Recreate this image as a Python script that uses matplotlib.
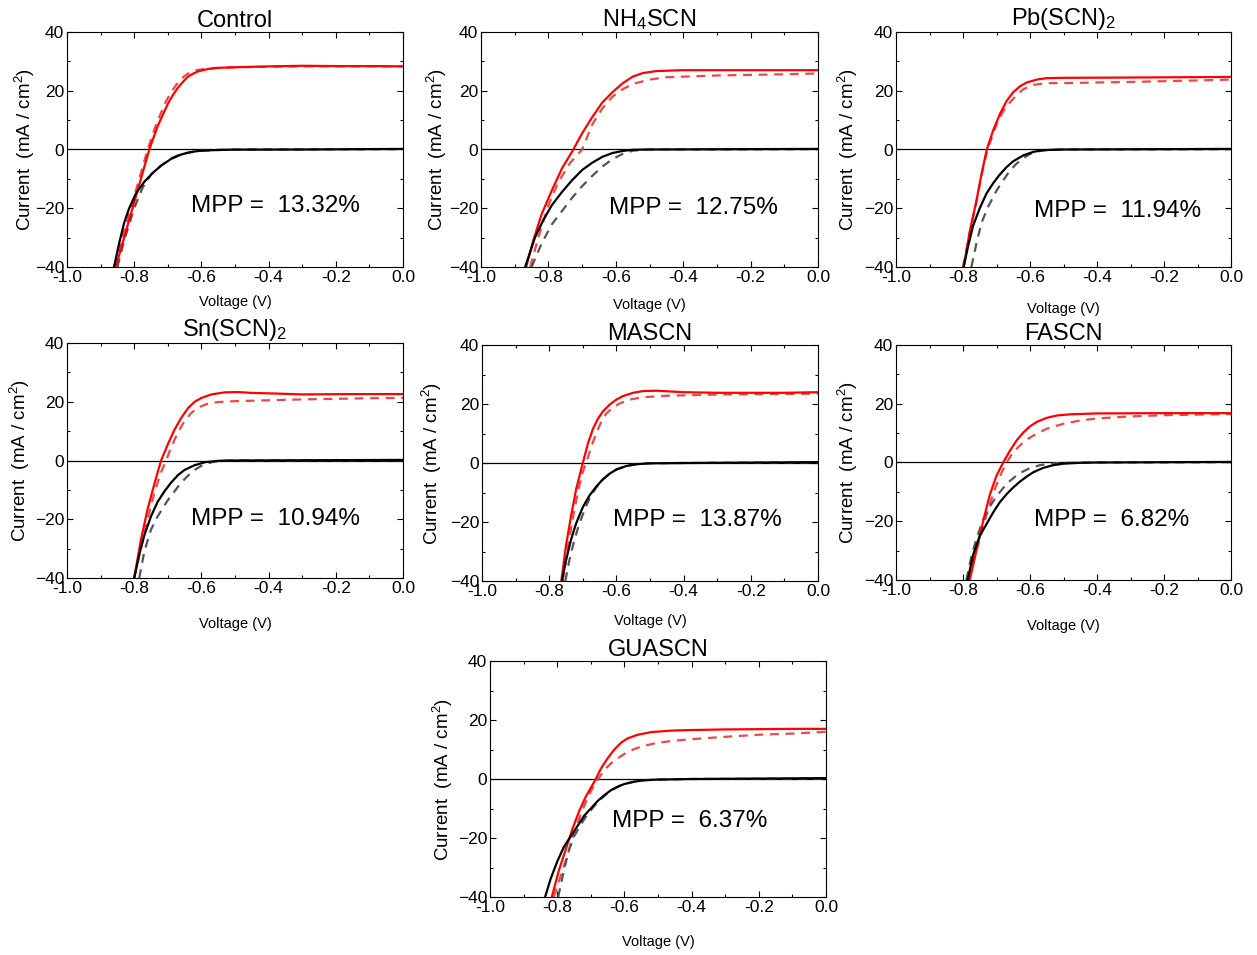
import numpy as np
import matplotlib
matplotlib.use("Agg")
import matplotlib.pyplot as plt
from matplotlib.ticker import MultipleLocator

plt.rcParams['font.family'] = ['Liberation Sans', 'DejaVu Sans']
plt.rcParams['mathtext.default'] = 'regular'

# J-V curves, (voltage V, current density mA/cm2)
# red = illuminated, black = dark; solid = reverse scan, dashed = forward scan
control_light_rev = [(-0.855, -40), (-0.83, -30), (-0.805, -20), (-0.78, -10), (-0.755, 0), (-0.73, 8),
                     (-0.70, 15.5), (-0.685, 18.5), (-0.67, 21), (-0.655, 23), (-0.64, 24.8), (-0.625, 25.8),
                     (-0.61, 26.6), (-0.58, 27.4), (-0.55, 27.8), (-0.5, 28.0), (-0.4, 28.3), (-0.3, 28.5),
                     (-0.2, 28.4), (-0.1, 28.4), (0, 28.3)]
control_light_fwd = [(-0.86, -40), (-0.835, -30), (-0.81, -20), (-0.785, -10), (-0.76, 0), (-0.735, 8.5),
                     (-0.705, 16.5), (-0.69, 19.5), (-0.675, 22), (-0.66, 24), (-0.645, 25.5), (-0.63, 26.4),
                     (-0.615, 27), (-0.58, 27.6), (-0.5, 28.0), (-0.3, 28.3), (0, 28.3)]
control_dark_rev = [(-0.86, -40), (-0.845, -32), (-0.83, -25), (-0.815, -20), (-0.795, -15), (-0.77, -11),
                    (-0.745, -8), (-0.72, -5.5), (-0.69, -3.2), (-0.66, -1.7), (-0.63, -0.8), (-0.6, -0.4),
                    (-0.55, -0.15), (-0.5, -0.05), (-0.3, 0), (0, 0.2)]
control_dark_fwd = [(-0.85, -40), (-0.83, -31), (-0.80, -20), (-0.775, -13), (-0.75, -8.5), (-0.72, -5.5),
                    (-0.69, -3), (-0.66, -1.5), (-0.6, -0.4), (-0.5, 0), (0, 0.1)]

nh4_light_rev = [(-0.866, -40), (-0.845, -31), (-0.82, -22), (-0.79, -14), (-0.76, -6.5), (-0.726, 0),
                 (-0.70, 5.5), (-0.67, 11), (-0.64, 16), (-0.61, 19.5), (-0.58, 22.5), (-0.55, 24.8),
                 (-0.52, 26), (-0.48, 26.7), (-0.4, 27), (-0.2, 27), (0, 27)]
nh4_light_fwd = [(-0.854, -40), (-0.83, -30), (-0.80, -19), (-0.77, -11), (-0.735, -4.5), (-0.70, 0),
                 (-0.67, 8.5), (-0.64, 14), (-0.61, 18), (-0.58, 20.5), (-0.55, 22.3), (-0.5, 23.8),
                 (-0.45, 24.6), (-0.3, 25.2), (-0.1, 25.6), (0, 25.9)]
nh4_dark_rev = [(-0.869, -40), (-0.84, -30), (-0.815, -24), (-0.79, -19), (-0.76, -14.5), (-0.73, -10.5),
                (-0.70, -7), (-0.67, -4.5), (-0.64, -2.5), (-0.61, -1.2), (-0.58, -0.5), (-0.55, -0.1),
                (-0.5, 0), (0, 0.2)]
nh4_dark_fwd = [(-0.85, -40), (-0.82, -32), (-0.79, -25.5), (-0.76, -21), (-0.73, -16.5), (-0.70, -12.5),
                (-0.67, -9), (-0.64, -5.8), (-0.61, -3.3), (-0.58, -1.5), (-0.55, -0.4), (-0.5, 0), (0, 0.1)]

pb_light_rev = [(-0.798, -40), (-0.78, -28), (-0.76, -17.5), (-0.745, -8.5), (-0.729, 0), (-0.71, 6.5),
                (-0.69, 12), (-0.67, 16.5), (-0.65, 19.5), (-0.63, 21.5), (-0.61, 22.8), (-0.58, 23.8),
                (-0.55, 24.3), (-0.5, 24.4), (-0.3, 24.5), (0, 24.7)]
pb_light_fwd = [(-0.80, -40), (-0.78, -28.5), (-0.76, -18), (-0.745, -9), (-0.727, 0), (-0.70, 8.5),
                (-0.68, 13), (-0.66, 16), (-0.64, 18.5), (-0.62, 20.5), (-0.59, 22), (-0.55, 22.6),
                (-0.5, 22.6), (-0.3, 23), (-0.1, 23.5), (0, 23.8)]
pb_dark_rev = [(-0.798, -40), (-0.785, -33), (-0.77, -26), (-0.75, -20), (-0.73, -15), (-0.71, -11.5),
               (-0.69, -8.5), (-0.67, -6), (-0.65, -4), (-0.62, -2), (-0.59, -0.8), (-0.56, -0.2),
               (-0.5, 0), (0, 0.2)]
pb_dark_fwd = [(-0.775, -40), (-0.76, -32), (-0.745, -25), (-0.725, -19.5), (-0.70, -14), (-0.68, -10.5),
               (-0.66, -7.2), (-0.64, -4.8), (-0.62, -3), (-0.60, -1.5), (-0.57, -0.5), (-0.54, -0.1),
               (-0.5, 0), (0, 0.1)]

sn_light_rev = [(-0.80, -40), (-0.78, -27), (-0.76, -16.5), (-0.74, -8), (-0.72, 0), (-0.70, 5.5),
                (-0.68, 10.5), (-0.66, 14.5), (-0.64, 17.8), (-0.62, 20), (-0.60, 21.3), (-0.57, 22.5),
                (-0.53, 23.2), (-0.49, 23.3), (-0.45, 23), (-0.38, 22.8), (-0.3, 22.5), (-0.15, 22.6),
                (0, 22.6)]
sn_light_fwd = [(-0.80, -40), (-0.78, -30), (-0.76, -20), (-0.74, -11), (-0.72, -4), (-0.705, 0),
                (-0.69, 4.5), (-0.67, 9.5), (-0.65, 13.5), (-0.63, 16.2), (-0.61, 18), (-0.58, 19.4),
                (-0.55, 19.9), (-0.5, 20.2), (-0.4, 20.5), (-0.3, 20.8), (-0.1, 21.2), (0, 21.3)]
sn_dark_rev = [(-0.80, -40), (-0.785, -32), (-0.77, -25.5), (-0.75, -19), (-0.73, -14), (-0.71, -10.5),
               (-0.69, -7.5), (-0.67, -5), (-0.65, -3.2), (-0.62, -1.6), (-0.59, -0.6), (-0.55, -0.1),
               (-0.5, 0), (0, 0.2)]
sn_dark_fwd = [(-0.785, -40), (-0.77, -31), (-0.75, -23.5), (-0.73, -19), (-0.70, -13.5), (-0.68, -10.5),
               (-0.66, -7.5), (-0.64, -5.2), (-0.62, -3.2), (-0.60, -1.8), (-0.57, -0.6), (-0.54, -0.1),
               (-0.5, 0), (0, 0.1)]

ma_light_rev = [(-0.764, -40), (-0.75, -28), (-0.735, -18), (-0.72, -9), (-0.70, 0), (-0.685, 6.5),
                (-0.67, 11.5), (-0.655, 15), (-0.64, 17.5), (-0.62, 19.8), (-0.60, 21.5), (-0.58, 22.7),
                (-0.55, 23.8), (-0.52, 24.4), (-0.48, 24.5), (-0.4, 24), (-0.3, 23.8), (-0.1, 23.8), (0, 24)]
ma_light_fwd = [(-0.76, -40), (-0.745, -29), (-0.73, -19), (-0.715, -10), (-0.70, -3), (-0.69, 0),
                (-0.675, 5.5), (-0.66, 10), (-0.645, 14), (-0.63, 16.8), (-0.61, 18.8), (-0.59, 20.2),
                (-0.56, 21.5), (-0.52, 22.3), (-0.45, 22.8), (-0.3, 23.2), (0, 23.5)]
ma_dark_rev = [(-0.762, -40), (-0.75, -33), (-0.735, -26), (-0.72, -20.5), (-0.70, -15), (-0.68, -11),
               (-0.66, -8), (-0.64, -5.5), (-0.62, -3.6), (-0.60, -2.2), (-0.57, -1), (-0.54, -0.4),
               (-0.5, -0.1), (-0.4, 0), (0, 0.3)]
ma_dark_fwd = [(-0.752, -40), (-0.74, -33), (-0.725, -26), (-0.71, -20.5), (-0.695, -16), (-0.68, -12),
               (-0.66, -8.3), (-0.64, -5.6), (-0.62, -3.6), (-0.60, -2.2), (-0.57, -1), (-0.54, -0.4),
               (-0.5, -0.1), (-0.4, 0), (0, 0.2)]

fa_light_rev = [(-0.78, -40), (-0.76, -30), (-0.74, -20), (-0.72, -11), (-0.70, -4.5), (-0.68, 0),
                (-0.66, 4), (-0.64, 7.5), (-0.62, 10.2), (-0.60, 12.3), (-0.58, 13.8), (-0.55, 15.2),
                (-0.52, 16), (-0.48, 16.4), (-0.4, 16.7), (-0.2, 16.8), (0, 16.8)]
fa_light_fwd = [(-0.782, -40), (-0.765, -32), (-0.745, -24), (-0.725, -16), (-0.705, -9), (-0.685, -3.5),
                (-0.67, 0), (-0.65, 3.5), (-0.63, 5.8), (-0.61, 7.8), (-0.58, 9.8), (-0.55, 11.5),
                (-0.5, 13.2), (-0.45, 14.3), (-0.4, 15), (-0.3, 15.7), (-0.2, 16.1), (0, 16.5)]
fa_dark_rev = [(-0.786, -40), (-0.77, -31.5), (-0.75, -25), (-0.73, -21), (-0.71, -17), (-0.69, -13.5),
               (-0.67, -10.8), (-0.65, -8.5), (-0.63, -6.5), (-0.61, -4.8), (-0.59, -3.3), (-0.56, -1.8),
               (-0.53, -0.9), (-0.5, -0.4), (-0.45, -0.1), (-0.4, 0), (0, 0.2)]
fa_dark_fwd = [(-0.79, -40), (-0.775, -32), (-0.76, -26), (-0.74, -19.5), (-0.72, -15), (-0.70, -11.5),
               (-0.68, -8.7), (-0.66, -6.3), (-0.64, -4.4), (-0.62, -3), (-0.60, -1.9), (-0.57, -0.9),
               (-0.54, -0.4), (-0.5, -0.1), (-0.4, 0), (0, 0.1)]

gua_light_rev = [(-0.816, -40), (-0.795, -31), (-0.775, -24), (-0.755, -17), (-0.735, -11), (-0.715, -6),
                 (-0.695, -2), (-0.685, 0), (-0.67, 3.5), (-0.65, 7), (-0.63, 10), (-0.61, 12.3),
                 (-0.59, 13.8), (-0.56, 15), (-0.52, 15.9), (-0.46, 16.4), (-0.4, 16.6), (-0.3, 16.8),
                 (-0.1, 17), (0, 17)]
gua_light_fwd = [(-0.81, -40), (-0.79, -33), (-0.77, -26), (-0.75, -18.5), (-0.73, -12), (-0.71, -6.5),
                 (-0.69, -2), (-0.678, 0), (-0.66, 3), (-0.64, 5.3), (-0.62, 7), (-0.60, 8.5),
                 (-0.57, 10.2), (-0.54, 11.3), (-0.5, 12.3), (-0.45, 13), (-0.4, 13.5), (-0.3, 14.3),
                 (-0.2, 15), (-0.1, 15.4), (0, 16)]
gua_dark_rev = [(-0.836, -40), (-0.82, -34), (-0.80, -28), (-0.78, -23), (-0.76, -19.5), (-0.74, -16),
                (-0.72, -12.5), (-0.70, -10), (-0.68, -7.5), (-0.66, -5.5), (-0.64, -3.8), (-0.62, -2.6),
                (-0.60, -1.7), (-0.57, -0.9), (-0.54, -0.4), (-0.5, -0.2), (-0.4, 0), (0, 0.3)]
gua_dark_fwd = [(-0.797, -40), (-0.78, -31), (-0.765, -24), (-0.75, -19.5), (-0.73, -15.5), (-0.71, -12),
                (-0.69, -9.2), (-0.67, -6.8), (-0.65, -4.8), (-0.63, -3.3), (-0.61, -2.1), (-0.58, -1.1),
                (-0.55, -0.5), (-0.5, -0.2), (-0.4, 0), (0, 0.1)]

titles = ['Control', r'NH$_4$SCN', r'Pb(SCN)$_2$', r'Sn(SCN)$_2$', 'MASCN', 'FASCN', 'GUASCN']
mpp = [13.32, 12.75, 11.94, 10.94, 13.87, 6.82, 6.37]
curves = [
    (control_light_rev, control_light_fwd, control_dark_rev, control_dark_fwd),
    (nh4_light_rev, nh4_light_fwd, nh4_dark_rev, nh4_dark_fwd),
    (pb_light_rev, pb_light_fwd, pb_dark_rev, pb_dark_fwd),
    (sn_light_rev, sn_light_fwd, sn_dark_rev, sn_dark_fwd),
    (ma_light_rev, ma_light_fwd, ma_dark_rev, ma_dark_fwd),
    (fa_light_rev, fa_light_fwd, fa_dark_rev, fa_dark_fwd),
    (gua_light_rev, gua_light_fwd, gua_dark_rev, gua_dark_fwd),
]

# layout in pixels: left, top, right, bottom of each axes box
W, H = 1257, 955
boxes = [(67, 32, 403, 267), (481, 32, 818, 267), (896, 32, 1231, 267),
         (67, 343, 403, 578), (482, 345, 818, 581), (896, 345, 1231, 580),
         (490, 661, 826, 897)]
text_pos = [(0.62, 0.26), (0.63, 0.25), (0.66, 0.24), (0.62, 0.25), (0.64, 0.26), (0.645, 0.255), (0.595, 0.32)]
xlabel_off = [0.149, 0.162, 0.179, 0.196, 0.17, 0.196, 0.19]
ylabel_off = [-0.125, -0.13, -0.143, -0.14, -0.149, -0.143, -0.14]

styles = [dict(color='#ff0000', ls='-', lw=1.6),
          dict(color='#e84a4a', ls=(0, (4, 3)), lw=1.6),
          dict(color='#000000', ls='-', lw=1.6),
          dict(color='#555555', ls=(0, (4, 3)), lw=1.6)]

fig = plt.figure(figsize=(W / 100, H / 100), dpi=100)

for i in range(7):
    l, t, r, b = boxes[i]
    ax = fig.add_axes([l / W, 1 - b / H, (r - l) / W, (b - t) / H])
    ax.axhline(0, color='black', lw=0.9, zorder=1)
    # dashed first so solid curves sit on top
    for k in [1, 3, 0, 2]:
        pts = np.array(curves[i][k])
        ax.plot(pts[:, 0], pts[:, 1], zorder=2 + (k % 2 == 0), **styles[k])

    ax.set_xlim(-1.0, 0.0)
    ax.set_ylim(-40, 40)
    ax.xaxis.set_major_locator(MultipleLocator(0.2))
    ax.xaxis.set_minor_locator(MultipleLocator(0.1))
    ax.yaxis.set_major_locator(MultipleLocator(20))
    ax.yaxis.set_minor_locator(MultipleLocator(10))
    ax.xaxis.set_major_formatter(plt.FuncFormatter(lambda v, p: '%.1f' % v))
    ax.tick_params(which='both', direction='in', top=True, right=True, labelsize=12.5, pad=2)
    ax.tick_params(which='major', length=4, width=0.8)
    ax.tick_params(which='minor', length=2.5, width=0.8)
    for s in ax.spines.values():
        s.set_linewidth(0.8)

    ax.set_title(titles[i], fontsize=17, pad=3)
    ax.set_xlabel('Voltage (V)', fontsize=10.5)
    ax.xaxis.label.set_va('center')
    ax.xaxis.set_label_coords(0.5, -xlabel_off[i])
    ax.set_ylabel(r'Current  (mA / cm$^2$)', fontsize=13.5)
    ax.yaxis.label.set_va('center')
    ax.yaxis.set_label_coords(ylabel_off[i], 0.5)

    ax.text(text_pos[i][0], text_pos[i][1], 'MPP =  %.2f%%' % mpp[i], transform=ax.transAxes,
            ha='center', va='center', fontsize=17.5)

fig.savefig('out.png', dpi=100)
